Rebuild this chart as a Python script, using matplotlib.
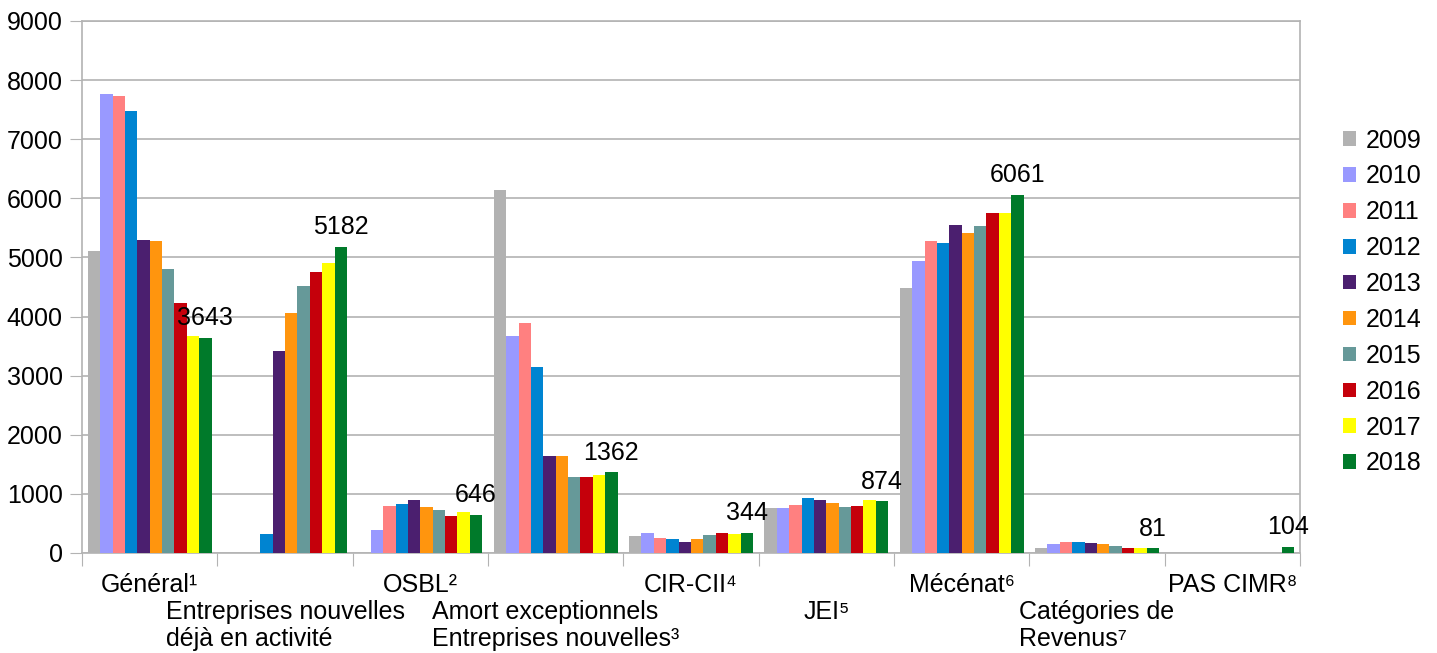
import numpy as np
import matplotlib.pyplot as plt
from matplotlib.patches import Patch
from matplotlib.transforms import blended_transform_factory

plt.rcParams['font.family'] = ['Liberation Sans', 'DejaVu Sans']

categories = ["Général¹", "Entreprises nouvelles\ndéjà en activité", "OSBL²",
              "Amort exceptionnels\nEntreprises nouvelles³", "CIR-CII⁴", "JEI⁵",
              "Mécénat⁶", "Catégories de\nRevenus⁷", "PAS CIMR⁸"]
years = ["2009", "2010", "2011", "2012", "2013", "2014", "2015", "2016", "2017", "2018"]

# one list per category, values 2009..2018
general = [5110, 7770, 7730, 7480, 5300, 5280, 4805, 4235, 3672, 3643]
entr_nouv_activ = [0, 0, 0, 321, 3418, 4061, 4518, 4755, 4907, 5182]
osbl = [0, 389, 795, 829, 897, 784, 727, 626, 694, 646]
amort = [6140, 3672, 3892, 3147, 1641, 1641, 1286, 1286, 1320, 1362]
cir_cii = [293, 344, 259, 242, 192, 242, 310, 344, 327, 344]
jei = [767, 767, 818, 936, 902, 852, 784, 801, 902, 874]
mecenat = [4490, 4941, 5285, 5245, 5550, 5420, 5533, 5759, 5759, 6061]
cat_revenus = [85, 152, 192, 192, 175, 158, 124, 85, 85, 81]
pas_cimr = [0, 0, 0, 0, 0, 0, 0, 0, 0, 104]

data = np.array([general, entr_nouv_activ, osbl, amort, cir_cii, jei,
                 mecenat, cat_revenus, pas_cimr])

colors = ['#b2b2b2', '#9999ff', '#ff8080', '#0084d1', '#4b1f6f',
          '#ff950e', '#669999', '#c5000b', '#ffff00', '#007a2a']

fs = 18
fig = plt.figure(figsize=(14.37, 6.53), dpi=100)
ax = fig.add_axes([82/1437, 1-553/653, (1300-82)/1437, (553-21)/653])

n = len(categories)
x = np.arange(n)
w = 0.0915
for i, yr in enumerate(years):
    ax.bar(x + (i - 4.5) * w, data[:, i], width=w, color=colors[i], zorder=3)

# labels for 2018 only
xl = x + 4.5 * w
for k in range(n):
    ax.annotate(str(data[k, -1]), (xl[k], data[k, -1]), xytext=(0, 9),
                textcoords='offset points', ha='center', va='baseline',
                fontsize=fs, zorder=5)

ax.set_xlim(-0.5, n - 0.5)
ax.set_ylim(0, 9000)
ax.set_yticks(np.arange(0, 9001, 1000))
ax.yaxis.grid(True, color='#b3b3b3', linewidth=1.2, zorder=0)
ax.set_axisbelow(True)
ax.tick_params(axis='y', length=9, color='#b3b3b3', labelsize=fs, pad=5)

# boundaries ticks, labels staggered on two rows
ax.set_xticks(np.arange(-0.5, n, 1.0))
ax.set_xticklabels([])
ax.tick_params(axis='x', length=9, color='#b3b3b3')
trans = blended_transform_factory(ax.transData, ax.transAxes)
for k, lab in enumerate(categories):
    yy = -0.038 if k % 2 == 0 else -0.038 - 0.0505
    ax.text(k, yy, lab, transform=trans, ha='center', va='top',
            multialignment='left', fontsize=fs, linespacing=1.15)

for s in ['left', 'right', 'bottom', 'top']:
    ax.spines[s].set_color('#b3b3b3')
    ax.spines[s].set_linewidth(1.2)

handles = [Patch(facecolor=c, edgecolor='none') for c in colors]
fig.legend(handles, years, loc='center left', bbox_to_anchor=(1343/1437, 1-302/653),
           frameon=False, fontsize=fs, handlelength=0.52, handleheight=0.52,
           handletextpad=0.4, labelspacing=0.475, borderaxespad=0, borderpad=0)

plt.savefig('out.png', dpi=100)
